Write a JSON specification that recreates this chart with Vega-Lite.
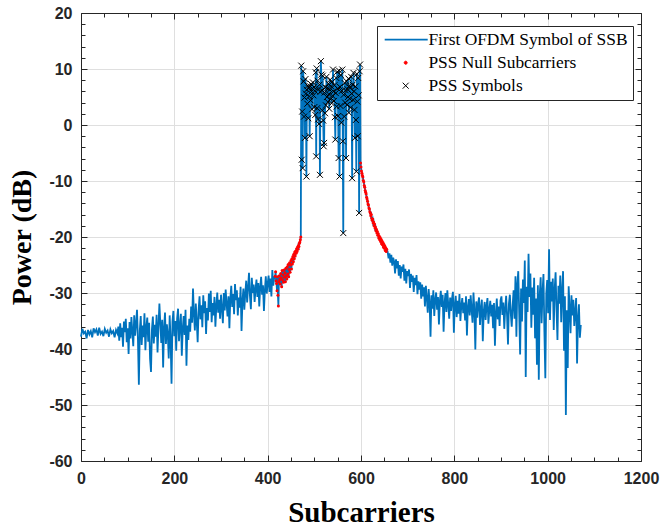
{
 "$schema": "https://vega.github.io/schema/vega-lite/v6.json",
 "width": 560,
 "height": 448,
 "autosize": {"type": "none"},
 "padding": {"left": 81, "top": 13, "right": 21, "bottom": 66},
 "background": "white",
 "config": {"view": {"stroke": null}},
 "datasets": {
  "spec": [
{"x":0,"y":-37.8},{"x":3,"y":-36.4},{"x":6,"y":-37.2},{"x":9,"y":-36.9},{"x":12,"y":-38.1},{"x":15,"y":-36.6},{"x":18,"y":-37.4},{"x":21,"y":-36.8},{"x":24,"y":-37.9},{"x":27,"y":-36.3},{"x":30,"y":-37.0},{"x":33,"y":-36.5},{"x":36,"y":-37.6},{"x":39,"y":-36.2},{"x":42,"y":-37.3},{"x":45,"y":-36.9},{"x":48,"y":-37.7},{"x":51,"y":-36.4},{"x":54,"y":-37.1},{"x":57,"y":-36.7},{"x":60,"y":-37.8},{"x":63,"y":-36.5},{"x":66,"y":-37.2},{"x":69,"y":-36.8},{"x":72,"y":-37.9},{"x":75,"y":-36.6},
{"x":78,"y":-37.2},{"x":80,"y":-36.0},{"x":82,"y":-38.5},{"x":84,"y":-35.4},{"x":86,"y":-37.9},{"x":88,"y":-36.2},{"x":90,"y":-39.6},{"x":92,"y":-35.1},{"x":94,"y":-37.0},{"x":96,"y":-34.6},{"x":98,"y":-38.8},{"x":100,"y":-36.3},{"x":102,"y":-40.9},{"x":104,"y":-35.2},{"x":106,"y":-38.1},{"x":108,"y":-34.3},{"x":110,"y":-36.9},{"x":112,"y":-39.5},{"x":114,"y":-34.0},{"x":116,"y":-37.6},{"x":118,"y":-35.5},{"x":120,"y":-33.0},{"x":122,"y":-38.2},{"x":124,"y":-46.4},{"x":126,"y":-36.7},{"x":128,"y":-34.1},{"x":130,"y":-39.3},{"x":132,"y":-35.8},{"x":134,"y":-37.9},{"x":136,"y":-33.6},{"x":138,"y":-40.2},{"x":140,"y":-36.1},{"x":142,"y":-34.4},{"x":144,"y":-38.7},{"x":146,"y":-35.3},{"x":148,"y":-41.8},{"x":150,"y":-44.1},{"x":152,"y":-36.5},{"x":154,"y":-34.2},{"x":156,"y":-39.0},{"x":158,"y":-35.7},{"x":160,"y":-37.8},{"x":162,"y":-33.9},{"x":164,"y":-40.6},{"x":166,"y":-36.0},{"x":168,"y":-31.9},{"x":170,"y":-35.4},{"x":172,"y":-38.9},{"x":174,"y":-34.8},{"x":176,"y":-43.3},{"x":178,"y":-36.2},{"x":180,"y":-33.5},{"x":182,"y":-39.1},{"x":184,"y":-35.6},{"x":186,"y":-37.4},{"x":188,"y":-41.7},{"x":190,"y":-34.0},{"x":192,"y":-38.3},{"x":194,"y":-46.2},{"x":196,"y":-35.1},{"x":198,"y":-33.2},{"x":200,"y":-37.7},{"x":202,"y":-35.0},{"x":204,"y":-40.3},{"x":206,"y":-34.5},{"x":208,"y":-32.8},{"x":210,"y":-38.6},{"x":212,"y":-35.9},{"x":214,"y":-33.7},{"x":216,"y":-41.2},{"x":218,"y":-36.4},{"x":220,"y":-34.1},{"x":222,"y":-37.5},{"x":224,"y":-33.0},{"x":226,"y":-43.0},{"x":228,"y":-35.8},{"x":230,"y":-38.4},{"x":232,"y":-34.6},{"x":234,"y":-36.9},{"x":236,"y":-32.4},{"x":238,"y":-35.3},{"x":240,"y":-29.2},{"x":242,"y":-33.8},{"x":244,"y":-36.7},{"x":246,"y":-31.9},{"x":248,"y":-35.0},{"x":250,"y":-38.8},{"x":252,"y":-33.1},{"x":254,"y":-30.6},{"x":256,"y":-34.7},{"x":258,"y":-32.2},{"x":260,"y":-36.1},{"x":262,"y":-30.4},{"x":264,"y":-33.6},{"x":266,"y":-31.5},{"x":268,"y":-37.3},{"x":270,"y":-32.7},{"x":272,"y":-34.9},{"x":274,"y":-30.1},{"x":276,"y":-33.4},{"x":278,"y":-29.6},{"x":280,"y":-35.2},{"x":282,"y":-31.8},{"x":284,"y":-34.0},{"x":286,"y":-30.7},{"x":288,"y":-36.0},{"x":290,"y":-32.3},{"x":292,"y":-29.9},{"x":294,"y":-33.5},{"x":296,"y":-31.2},{"x":298,"y":-34.6},{"x":300,"y":-30.3},{"x":302,"y":-32.8},{"x":304,"y":-35.4},{"x":306,"y":-30.0},{"x":308,"y":-33.1},{"x":310,"y":-29.4},{"x":312,"y":-31.9},{"x":314,"y":-34.2},{"x":316,"y":-30.6},{"x":318,"y":-36.3},{"x":320,"y":-31.0},{"x":322,"y":-28.7},{"x":324,"y":-32.5},{"x":326,"y":-30.2},{"x":328,"y":-33.8},{"x":330,"y":-28.4},{"x":332,"y":-31.3},{"x":334,"y":-29.5},{"x":336,"y":-34.0},{"x":338,"y":-30.8},{"x":340,"y":-32.6},{"x":342,"y":-28.9},{"x":344,"y":-36.8},{"x":346,"y":-31.4},{"x":348,"y":-29.2},{"x":350,"y":-33.0},{"x":352,"y":-30.1},{"x":354,"y":-27.8},{"x":356,"y":-31.7},{"x":358,"y":-29.0},{"x":360,"y":-26.4},{"x":362,"y":-30.5},{"x":364,"y":-32.9},{"x":366,"y":-27.3},{"x":368,"y":-30.0},{"x":370,"y":-28.5},{"x":372,"y":-31.6},{"x":374,"y":-29.3},{"x":376,"y":-27.6},{"x":378,"y":-30.7},{"x":380,"y":-28.2},{"x":382,"y":-32.4},{"x":384,"y":-29.0},{"x":386,"y":-27.1},{"x":388,"y":-30.3},{"x":390,"y":-28.6},{"x":392,"y":-33.2},{"x":394,"y":-29.5},{"x":396,"y":-27.0},{"x":398,"y":-30.1},{"x":400,"y":-28.3},{"x":402,"y":-26.9},{"x":404,"y":-29.8},{"x":406,"y":-27.4},{"x":408,"y":-30.6},{"x":410,"y":-25.9},{"x":412,"y":-28.7},{"x":414,"y":-27.2},
{"x":416,"y":-27.0},{"x":417,"y":-26.2},{"x":418,"y":-27.8},{"x":419,"y":-28.3},{"x":420,"y":-29.6},{"x":421,"y":-27.1},{"x":422,"y":-30.4},{"x":423,"y":-32.3},{"x":424,"y":-28.0},{"x":425,"y":-26.9},{"x":426,"y":-27.6},{"x":427,"y":-28.4},{"x":428,"y":-26.5},{"x":429,"y":-27.3},{"x":430,"y":-28.9},{"x":431,"y":-26.0},{"x":432,"y":-27.7},{"x":433,"y":-26.8},{"x":434,"y":-28.1},{"x":435,"y":-25.9},{"x":436,"y":-27.2},{"x":437,"y":-26.4},{"x":438,"y":-28.0},{"x":439,"y":-25.6},{"x":440,"y":-26.9},{"x":441,"y":-27.5},{"x":442,"y":-25.3},{"x":443,"y":-26.6},{"x":444,"y":-24.9},{"x":445,"y":-27.1},{"x":446,"y":-25.8},{"x":447,"y":-24.6},{"x":448,"y":-26.3},{"x":449,"y":-25.0},{"x":450,"y":-24.2},{"x":451,"y":-25.7},{"x":452,"y":-23.9},{"x":453,"y":-24.8},{"x":454,"y":-23.5},{"x":455,"y":-24.4},{"x":456,"y":-23.1},{"x":457,"y":-23.9},{"x":458,"y":-22.7},{"x":459,"y":-23.4},{"x":460,"y":-22.5},{"x":461,"y":-22.9},{"x":462,"y":-22.1},{"x":463,"y":-22.6},{"x":464,"y":-21.8},{"x":465,"y":-22.2},{"x":466,"y":-21.5},{"x":467,"y":-21.7},{"x":468,"y":-21.1},{"x":469,"y":-20.9},{"x":470,"y":-20.5},{"x":471,"y":-20.0},
{"x":472,"y":10.6},{"x":473,"y":-6.2},{"x":474,"y":2.4},{"x":475,"y":-7.7},{"x":476,"y":9.6},{"x":477,"y":7.8},{"x":478,"y":1.5},{"x":479,"y":4.9},{"x":480,"y":-2.3},{"x":481,"y":8.2},{"x":482,"y":5.6},{"x":483,"y":-9.2},{"x":484,"y":6.3},{"x":485,"y":3.8},{"x":486,"y":7.0},{"x":487,"y":1.2},{"x":488,"y":6.6},{"x":489,"y":5.1},{"x":490,"y":-2.0},{"x":491,"y":6.9},{"x":492,"y":4.4},{"x":493,"y":7.3},{"x":494,"y":6.0},{"x":495,"y":2.8},{"x":496,"y":6.5},{"x":497,"y":7.6},{"x":498,"y":5.3},{"x":499,"y":6.8},{"x":500,"y":3.2},{"x":501,"y":6.1},{"x":502,"y":1.8},{"x":503,"y":9.4},{"x":504,"y":-5.6},{"x":505,"y":10.1},{"x":506,"y":3.0},{"x":507,"y":7.9},{"x":508,"y":1.0},{"x":509,"y":6.4},{"x":510,"y":0.2},{"x":511,"y":7.2},{"x":512,"y":-8.9},{"x":513,"y":5.9},{"x":514,"y":11.4},{"x":515,"y":9.0},{"x":516,"y":6.2},{"x":517,"y":2.6},{"x":518,"y":8.8},{"x":519,"y":0.8},{"x":520,"y":-3.8},{"x":521,"y":-3.2},{"x":522,"y":5.8},{"x":523,"y":2.1},{"x":524,"y":6.7},{"x":525,"y":3.5},{"x":526,"y":8.6},{"x":527,"y":5.0},{"x":528,"y":6.6},{"x":529,"y":4.1},{"x":530,"y":7.4},{"x":531,"y":5.5},{"x":532,"y":2.9},{"x":533,"y":6.3},{"x":534,"y":8.1},{"x":535,"y":4.6},{"x":536,"y":6.9},{"x":537,"y":3.9},{"x":538,"y":7.7},{"x":539,"y":5.2},{"x":540,"y":9.9},{"x":541,"y":6.0},{"x":542,"y":4.3},{"x":543,"y":7.1},{"x":544,"y":1.4},{"x":545,"y":-2.6},{"x":546,"y":5.7},{"x":547,"y":8.4},{"x":548,"y":3.3},{"x":549,"y":9.5},{"x":550,"y":6.5},{"x":551,"y":1.6},{"x":552,"y":-5.9},{"x":553,"y":9.7},{"x":554,"y":-9.2},{"x":555,"y":6.8},{"x":556,"y":3.4},{"x":557,"y":8.9},{"x":558,"y":0.4},{"x":559,"y":6.1},{"x":560,"y":9.9},{"x":561,"y":-2.9},{"x":562,"y":-19.3},{"x":563,"y":5.4},{"x":564,"y":1.5},{"x":565,"y":7.5},{"x":566,"y":4.0},{"x":567,"y":6.2},{"x":568,"y":-5.9},{"x":569,"y":7.8},{"x":570,"y":3.6},{"x":571,"y":6.4},{"x":572,"y":5.0},{"x":573,"y":8.3},{"x":574,"y":2.2},{"x":575,"y":7.0},{"x":576,"y":4.7},{"x":577,"y":6.6},{"x":578,"y":3.1},{"x":579,"y":8.6},{"x":580,"y":5.6},{"x":581,"y":-9.5},{"x":582,"y":7.2},{"x":583,"y":4.5},{"x":584,"y":9.3},{"x":585,"y":6.0},{"x":586,"y":2.7},{"x":587,"y":-2.3},{"x":588,"y":6.9},{"x":589,"y":0.9},{"x":590,"y":-8.3},{"x":591,"y":9.1},{"x":592,"y":4.2},{"x":593,"y":-2.0},{"x":594,"y":8.4},{"x":595,"y":5.3},{"x":596,"y":-15.7},{"x":597,"y":9.6},{"x":598,"y":10.8},
{"x":599,"y":-6.8},{"x":600,"y":-7.5},{"x":601,"y":-8.2},{"x":602,"y":-8.6},{"x":603,"y":-9.0},{"x":604,"y":-9.3},{"x":605,"y":-9.9},{"x":606,"y":-10.2},{"x":607,"y":-10.8},{"x":608,"y":-11.1},{"x":609,"y":-11.7},{"x":610,"y":-12.0},{"x":611,"y":-12.3},{"x":612,"y":-12.9},{"x":613,"y":-13.2},{"x":614,"y":-13.6},{"x":615,"y":-14.1},{"x":616,"y":-14.3},{"x":617,"y":-14.8},{"x":618,"y":-15.0},{"x":619,"y":-15.5},{"x":620,"y":-15.7},{"x":621,"y":-16.2},{"x":622,"y":-16.0},{"x":623,"y":-16.7},{"x":624,"y":-17.0},{"x":625,"y":-16.8},{"x":626,"y":-17.5},{"x":627,"y":-17.3},{"x":628,"y":-18.0},{"x":629,"y":-17.7},{"x":630,"y":-18.4},{"x":631,"y":-18.2},{"x":632,"y":-18.9},{"x":633,"y":-18.6},{"x":634,"y":-19.3},{"x":635,"y":-19.0},{"x":636,"y":-19.7},{"x":637,"y":-19.4},{"x":638,"y":-20.2},{"x":639,"y":-19.8},{"x":640,"y":-20.5},{"x":641,"y":-20.1},{"x":642,"y":-20.8},{"x":643,"y":-20.4},{"x":644,"y":-21.2},{"x":645,"y":-20.7},{"x":646,"y":-21.4},{"x":647,"y":-21.0},{"x":648,"y":-21.8},{"x":649,"y":-21.3},{"x":650,"y":-22.0},{"x":651,"y":-21.6},{"x":652,"y":-22.4},{"x":653,"y":-21.9},{"x":654,"y":-22.6},{"x":655,"y":-22.2},
{"x":657,"y":-22.6},{"x":659,"y":-23.8},{"x":661,"y":-22.9},{"x":663,"y":-24.6},{"x":665,"y":-23.2},{"x":667,"y":-25.1},{"x":669,"y":-23.7},{"x":671,"y":-24.4},{"x":673,"y":-26.5},{"x":675,"y":-24.0},{"x":677,"y":-25.6},{"x":679,"y":-24.3},{"x":681,"y":-26.9},{"x":683,"y":-25.0},{"x":685,"y":-27.4},{"x":687,"y":-25.3},{"x":689,"y":-26.2},{"x":691,"y":-24.9},{"x":693,"y":-27.8},{"x":695,"y":-25.7},{"x":697,"y":-28.3},{"x":699,"y":-26.1},{"x":701,"y":-27.0},{"x":703,"y":-25.8},{"x":705,"y":-29.1},{"x":707,"y":-26.6},{"x":709,"y":-28.0},{"x":711,"y":-26.9},{"x":713,"y":-29.8},{"x":715,"y":-27.3},{"x":717,"y":-28.6},{"x":719,"y":-26.8},{"x":721,"y":-30.2},{"x":723,"y":-27.9},{"x":725,"y":-29.4},{"x":727,"y":-28.1},{"x":729,"y":-31.0},{"x":731,"y":-28.5},{"x":733,"y":-30.6},{"x":735,"y":-29.0},{"x":737,"y":-32.4},{"x":739,"y":-28.7},{"x":741,"y":-30.9},{"x":743,"y":-33.5},{"x":745,"y":-29.3},{"x":747,"y":-31.6},{"x":749,"y":-37.8},{"x":751,"y":-30.4},{"x":753,"y":-32.8},{"x":755,"y":-29.5},{"x":757,"y":-34.1},{"x":759,"y":-31.2},{"x":761,"y":-29.9},{"x":763,"y":-33.0},{"x":765,"y":-30.7},{"x":767,"y":-35.6},{"x":769,"y":-31.4},{"x":771,"y":-29.6},{"x":773,"y":-32.5},{"x":775,"y":-30.3},{"x":777,"y":-36.9},{"x":779,"y":-31.8},{"x":781,"y":-30.0},{"x":783,"y":-33.4},{"x":785,"y":-29.5},{"x":787,"y":-32.1},{"x":789,"y":-34.6},{"x":791,"y":-30.8},{"x":793,"y":-33.2},{"x":795,"y":-31.0},{"x":797,"y":-29.8},{"x":799,"y":-37.1},{"x":801,"y":-32.0},{"x":803,"y":-30.5},{"x":805,"y":-34.3},{"x":807,"y":-31.4},{"x":809,"y":-33.7},{"x":811,"y":-30.2},{"x":813,"y":-35.0},{"x":815,"y":-32.2},{"x":817,"y":-30.9},{"x":819,"y":-33.6},{"x":821,"y":-31.7},{"x":823,"y":-34.9},{"x":825,"y":-30.6},{"x":827,"y":-37.6},{"x":829,"y":-32.5},{"x":831,"y":-31.1},{"x":833,"y":-34.0},{"x":835,"y":-30.4},{"x":837,"y":-32.9},{"x":839,"y":-35.3},{"x":841,"y":-29.9},{"x":843,"y":-33.1},{"x":845,"y":-40.1},{"x":847,"y":-31.5},{"x":849,"y":-34.4},{"x":851,"y":-32.0},{"x":853,"y":-30.8},{"x":855,"y":-35.7},{"x":857,"y":-32.7},{"x":859,"y":-31.2},{"x":861,"y":-38.6},{"x":863,"y":-33.3},{"x":865,"y":-31.6},{"x":867,"y":-34.8},{"x":869,"y":-32.3},{"x":871,"y":-30.9},{"x":873,"y":-35.5},{"x":875,"y":-33.0},{"x":877,"y":-31.4},{"x":879,"y":-34.2},{"x":881,"y":-32.1},{"x":883,"y":-36.3},{"x":885,"y":-31.8},{"x":887,"y":-39.4},{"x":889,"y":-33.6},{"x":891,"y":-31.0},{"x":893,"y":-34.7},{"x":895,"y":-32.4},{"x":897,"y":-35.9},{"x":899,"y":-31.3},{"x":901,"y":-30.6},{"x":903,"y":-33.9},{"x":905,"y":-31.7},{"x":907,"y":-36.4},{"x":909,"y":-32.8},{"x":911,"y":-30.5},{"x":913,"y":-34.1},{"x":915,"y":-39.2},{"x":917,"y":-31.9},{"x":919,"y":-30.3},{"x":921,"y":-33.7},{"x":923,"y":-36.0},{"x":925,"y":-32.2},{"x":927,"y":-29.5},{"x":929,"y":-34.6},{"x":931,"y":-27.0},{"x":933,"y":-37.8},{"x":935,"y":-28.4},{"x":937,"y":-26.1},{"x":939,"y":-33.5},{"x":941,"y":-41.0},{"x":943,"y":-29.2},{"x":945,"y":-35.1},{"x":947,"y":-27.6},{"x":949,"y":-31.8},{"x":951,"y":-24.2},{"x":953,"y":-45.0},{"x":955,"y":-28.9},{"x":957,"y":-33.4},{"x":959,"y":-23.0},{"x":961,"y":-30.7},{"x":963,"y":-26.5},{"x":965,"y":-36.2},{"x":967,"y":-29.0},{"x":969,"y":-33.9},{"x":971,"y":-27.3},{"x":973,"y":-38.1},{"x":975,"y":-31.0},{"x":977,"y":-42.8},{"x":979,"y":-28.6},{"x":981,"y":-45.5},{"x":983,"y":-30.3},{"x":985,"y":-27.2},{"x":987,"y":-35.4},{"x":989,"y":-29.8},{"x":991,"y":-26.6},{"x":993,"y":-37.0},{"x":995,"y":-45.2},{"x":997,"y":-30.1},{"x":999,"y":-27.7},{"x":1001,"y":-33.6},{"x":1003,"y":-22.2},{"x":1005,"y":-34.8},{"x":1007,"y":-28.0},{"x":1009,"y":-31.5},{"x":1011,"y":-27.4},{"x":1013,"y":-36.6},{"x":1015,"y":-29.3},{"x":1017,"y":-26.3},{"x":1019,"y":-33.0},{"x":1021,"y":-38.4},{"x":1023,"y":-28.7},{"x":1025,"y":-31.9},{"x":1027,"y":-26.9},{"x":1029,"y":-35.2},{"x":1031,"y":-29.5},{"x":1033,"y":-26.1},{"x":1035,"y":-40.3},{"x":1037,"y":-30.6},{"x":1039,"y":-51.8},{"x":1041,"y":-33.1},{"x":1043,"y":-43.4},{"x":1045,"y":-28.8},{"x":1047,"y":-32.7},{"x":1049,"y":-37.2},{"x":1051,"y":-30.4},{"x":1053,"y":-34.0},{"x":1055,"y":-31.2},{"x":1057,"y":-35.9},{"x":1059,"y":-33.3},{"x":1061,"y":-30.9},{"x":1063,"y":-42.6},{"x":1065,"y":-34.5},{"x":1067,"y":-32.0},{"x":1069,"y":-38.0},{"x":1071,"y":-35.7}
  ]
 },
 "data": {"name": "spec"},
 "layer": [
  {
   "mark": {"type": "line", "strokeWidth": 1.8},
   "encoding": {
    "x": {"field": "x", "type": "quantitative",
     "scale": {"domain": [0, 1200], "nice": false, "zero": false},
     "axis": {"orient": "bottom", "values": [0,50,100,150,200,250,300,350,400,450,500,550,600,650,700,750,800,850,900,950,1000,1050,1100,1150,1200],
      "labelExpr": "datum.value % 200 === 0 ? '' + datum.value : ''",
      "labelFlush": false, "labelOverlap": false,
      "labelFont": "Liberation Sans", "labelFontWeight": "bold", "labelFontSize": 16, "labelColor": "#262626", "labelPadding": 15,
      "grid": true, "gridColor": "#dfdfdf", "gridWidth": 1,
      "gridOpacity": {"condition": {"test": "datum.value % 200 === 0", "value": 1}, "value": 0},
      "ticks": true, "tickColor": "#262626", "tickWidth": 1,
      "tickSize": {"condition": {"test": "datum.value % 200 === 0", "value": -6}, "value": -4},
      "domainColor": "#262626", "domainWidth": 1,
      "title": "Subcarriers", "titleFont": "Liberation Serif", "titleFontSize": 29, "titleFontWeight": "bold", "titleColor": "black", "titlePadding": 10}},
    "y": {"field": "y", "type": "quantitative",
     "scale": {"domain": [-60, 20], "nice": false, "zero": false},
     "axis": {"orient": "left", "values": [-60,-58,-56,-54,-52,-50,-48,-46,-44,-42,-40,-38,-36,-34,-32,-30,-28,-26,-24,-22,-20,-18,-16,-14,-12,-10,-8,-6,-4,-2,0,2,4,6,8,10,12,14,16,18,20],
      "labelExpr": "datum.value % 10 === 0 ? '' + datum.value : ''",
      "labelFlush": false, "labelOverlap": false,
      "labelFont": "Liberation Sans", "labelFontWeight": "bold", "labelFontSize": 16, "labelColor": "#262626", "labelPadding": 15,
      "grid": true, "gridColor": "#dfdfdf", "gridWidth": 1,
      "gridOpacity": {"condition": {"test": "datum.value % 10 === 0", "value": 1}, "value": 0},
      "ticks": true, "tickColor": "#262626", "tickWidth": 1,
      "tickSize": {"condition": {"test": "datum.value % 10 === 0", "value": -6}, "value": -4},
      "domainColor": "#262626", "domainWidth": 1,
      "title": "Power (dB)", "titleFont": "Liberation Serif", "titleFontSize": 28, "titleFontWeight": "bold", "titleColor": "black", "titlePadding": 12}},
    "color": {"datum": "First OFDM Symbol of SSB",
     "scale": {"domain": ["First OFDM Symbol of SSB", "PSS Null Subcarriers", "PSS Symbols"], "range": ["#0072BD", "#FF0000", "#000000"]},
     "legend": {"title": null, "orient": "none", "legendX": 296, "legendY": 13,
      "strokeColor": "#262626", "fillColor": "white", "padding": 5,
      "labelFont": "Liberation Serif", "labelFontSize": 17.4, "labelColor": "black", "labelOffset": 29, "labelLimit": 400,
      "symbolType": "stroke", "symbolSize": 1800, "symbolStrokeWidth": 1.5, "rowPadding": 4,
      "encode": {"symbols": {"update": {
       "shape": {"signal": "datum.value === 'PSS Symbols' ? 'M2.4,-0.6L3.6,0.6M3.6,-0.6L2.4,0.6' : datum.value === 'PSS Null Subcarriers' ? 'M3.3,0A0.3,0.3,0,1,1,2.7,0A0.3,0.3,0,1,1,3.3,0Z' : 'M-1.2,0L7.4,0'"},
       "size": {"value": 100},
       "fill": {"signal": "datum.value === 'PSS Null Subcarriers' ? '#FF0000' : 'transparent'"},
       "stroke": {"signal": "datum.value === 'PSS Null Subcarriers' ? '#FF0000' : datum.value === 'PSS Symbols' ? '#000000' : '#0072BD'"},
       "strokeWidth": {"signal": "datum.value === 'First OFDM Symbol of SSB' ? 1.8 : 1"},
       "opacity": {"value": 1}
      }}}}}
   }
  },
  {
   "transform": [{"filter": "(datum.x >= 416 && datum.x <= 471) || (datum.x >= 599 && datum.x <= 655)"}],
   "mark": {"type": "point", "filled": true, "shape": "circle", "size": 9, "opacity": 1},
   "encoding": {
    "x": {"field": "x", "type": "quantitative",
     "axis": {"orient": "top", "values": [0,50,100,150,200,250,300,350,400,450,500,550,600,650,700,750,800,850,900,950,1000,1050,1100,1150,1200],
      "labels": false, "grid": false, "title": null, "ticks": true, "tickColor": "#262626", "tickWidth": 1,
      "tickSize": {"condition": {"test": "datum.value % 200 === 0", "value": -6}, "value": -4},
      "domainColor": "#262626", "domainWidth": 1}},
    "y": {"field": "y", "type": "quantitative",
     "axis": {"orient": "right", "values": [-60,-58,-56,-54,-52,-50,-48,-46,-44,-42,-40,-38,-36,-34,-32,-30,-28,-26,-24,-22,-20,-18,-16,-14,-12,-10,-8,-6,-4,-2,0,2,4,6,8,10,12,14,16,18,20],
      "labels": false, "grid": false, "title": null, "ticks": true, "tickColor": "#262626", "tickWidth": 1,
      "tickSize": {"condition": {"test": "datum.value % 10 === 0", "value": -6}, "value": -4},
      "domainColor": "#262626", "domainWidth": 1}},
    "color": {"datum": "PSS Null Subcarriers"}
   }
  },
  {
   "transform": [{"filter": "datum.x >= 472 && datum.x <= 598"}],
   "mark": {"type": "point", "filled": false, "shape": "M-1,-1L1,1M1,-1L-1,1", "size": 36, "strokeWidth": 1, "opacity": 1},
   "encoding": {
    "x": {"field": "x", "type": "quantitative", "axis": null},
    "y": {"field": "y", "type": "quantitative", "axis": null},
    "color": {"datum": "PSS Symbols"}
   }
  }
 ],
 "resolve": {"axis": {"x": "independent", "y": "independent"}}
}
